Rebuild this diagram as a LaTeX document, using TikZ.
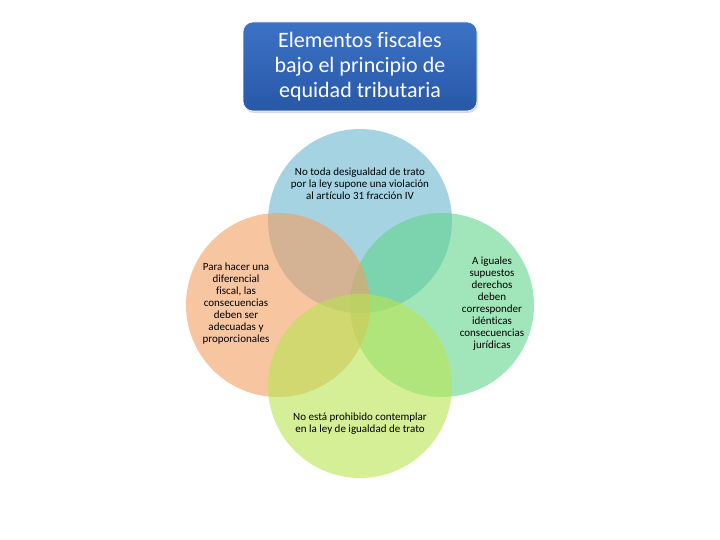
\documentclass[tikz,border=0pt]{standalone}
\usepackage{fontspec}
\setmainfont[Ligatures=NoCommon]{Carlito}
\usetikzlibrary{shadows}

\definecolor{azul}{RGB}{60,114,196}
\definecolor{azuloscuro}{RGB}{40,88,168}
\definecolor{cielo}{RGB}{105,182,206}
\definecolor{durazno}{RGB}{244,158,98}
\definecolor{menta}{RGB}{98,214,140}
\definecolor{lima}{RGB}{185,228,80}

\tikzset{%
  every node/.style={
    inner sep=1pt
  },
  titulo/.style={
    draw=white, line width=0.6pt, rounded corners=10pt,
    top color=azul, bottom color=azuloscuro,
    minimum width=234, minimum height=89,
    text=white, align=center,
    font=\fontsize{22}{25}\selectfont,
    drop shadow={shadow xshift=1pt, shadow yshift=-2pt, opacity=0.3}
  },
  circulo/.style={
    circle, minimum size=184, fill opacity=0.6
  },
  texto/.style={
    align=center, text=black,
    font=\fontsize{11}{12}\selectfont
  }
}

\begin{document}
\begin{tikzpicture}[x=1pt,y=-1pt]
      \useasboundingbox (0,0) rectangle (720,540);
      \node[titulo] (0) at (360,66.5) {Elementos fiscales\\bajo el principio de\\equidad tributaria};
      \node[circulo, fill=cielo] (1) at (360,221) {};
      \node[circulo, fill=menta] (2) at (442,305) {};
      \node[circulo, fill=durazno] (3) at (278,305) {};
      \node[circulo, fill=lima] (4) at (360,386) {};
      \node[texto] (a) at (360,184) {No toda desigualdad de trato\\por la ley supone una violación\\al artículo 31 fracción IV};
      \node[texto] (b) at (236,304) {Para hacer una\\diferencial\\fiscal, las\\consecuencias\\deben ser\\adecuadas y\\proporcionales};
      \node[texto] (c) at (492,304) {A iguales\\supuestos\\derechos\\deben\\corresponder\\idénticas\\consecuencias\\jurídicas};
      \node[texto] (d) at (360,424) {No está prohibido contemplar\\en la ley de igualdad de trato};
    \end{tikzpicture}
\end{document}
